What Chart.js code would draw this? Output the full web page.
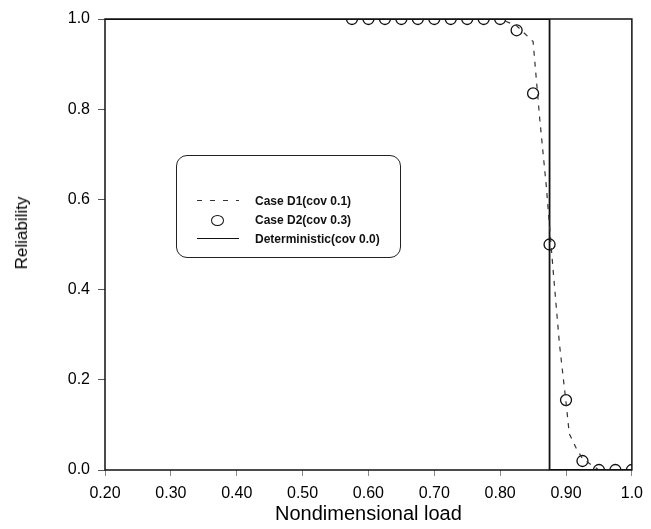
<!DOCTYPE html>
<html>
<head>
<meta charset="utf-8">
<script src="https://cdn.jsdelivr.net/npm/chart.js@4"></script>
<style>
  html, body { margin: 0; padding: 0; background: #fff; }
  #wrap { position: relative; width: 651px; height: 529px; }
  #c { position: absolute; left: 0; top: 0; }
  #ytitle {
    position: absolute; left: 22px; top: 233px; transform: translate(-50%, -50%) rotate(-90deg);
    font-family: "Liberation Sans", Arial, sans-serif; font-size: 17px; color: #000; white-space: nowrap;
  }
  #legend {
    position: absolute; left: 176px; top: 155px; width: 225px; height: 103px;
    border: 1.5px solid #222; border-radius: 11px; box-sizing: border-box;
    font-family: "Liberation Sans", Arial, sans-serif; font-weight: bold; font-size: 12px; color: #111;
  }
  .row { position: absolute; left: 0; height: 16px; width: 100%; }
  .sym { position: absolute; left: 20px; width: 42px; height: 16px; }
  .txt { position: absolute; left: 78px; top: 0; line-height: 16px; white-space: nowrap; }
  .dash { position: absolute; top: 7px; left: 0; width: 42px; height: 1.3px;
          background: repeating-linear-gradient(to right, #333 0, #333 5px, transparent 5px, transparent 13px); }
  .solid { position: absolute; top: 7px; left: 0; width: 42px; border-top: 1.3px solid #111; }
  .circ { position: absolute; top: 3px; left: 14px; width: 11px; height: 9px; border: 1.2px solid #111; border-radius: 50%; }
</style>
</head>
<body>
<div id="wrap">
  <canvas id="c" width="651" height="529"></canvas>
  <div id="ytitle">Reliability</div>
  <div id="legend"></div>
</div>
<script>
// ---- data ----
const xTickLabels = ['0.20', '0.30', '0.40', '0.50', '0.60', '0.70', '0.80', '0.90', '1.0'];
const yTickLabels = ['0.0', '0.2', '0.4', '0.6', '0.8', '1.0'];

const seriesNames = ['Case D1(cov 0.1)', 'Case D2(cov 0.3)', 'Deterministic(cov 0.0)'];

const d1Load = [0.575, 0.80, 0.825, 0.85, 0.86, 0.87, 0.88, 0.89, 0.90, 0.905, 0.915, 0.925, 0.95, 0.975, 1.0];
const d1Rel  = [1.0,   1.0,  0.985, 0.95, 0.78, 0.63, 0.45, 0.28, 0.15, 0.08,  0.05,  0.025, 0.0,  0.0,   0.0];

const d2Load = [0.575, 0.60, 0.625, 0.65, 0.675, 0.70, 0.725, 0.75, 0.775, 0.80, 0.825, 0.85, 0.875, 0.90, 0.925, 0.95, 0.975, 1.0];
const d2Rel  = [1.0,   1.0,  1.0,   1.0,  1.0,   1.0,  1.0,   1.0,  1.0,   1.0,  0.975, 0.835, 0.50, 0.155, 0.02,  0.0,  0.0,   0.0];

const detLoad = [0.20, 0.875, 0.875, 1.0];
const detRel  = [1.0,  1.0,   0.0,   0.0];

function pts(xs, ys) { return xs.map((x, i) => ({ x: x, y: ys[i] })); }

const framePlugin = {
  id: 'frame',
  afterDatasetsDraw(chart) {
    const a = chart.chartArea, ctx = chart.ctx;
    ctx.save();
    ctx.strokeStyle = '#111';
    ctx.lineWidth = 1.5;
    ctx.strokeRect(a.left, a.top, a.right - a.left, a.bottom - a.top);
    ctx.restore();
  }
};

const font = "'Liberation Sans', Arial, sans-serif";

new Chart(document.getElementById('c'), {
  type: 'scatter',
  data: {
    datasets: [
      {
        label: seriesNames[0],
        data: pts(d1Load, d1Rel),
        showLine: true,
        borderColor: '#333',
        borderWidth: 1.2,
        borderDash: [5, 6],
        pointRadius: 0,
        tension: 0
      },
      {
        label: seriesNames[1],
        data: pts(d2Load, d2Rel),
        showLine: false,
        borderColor: '#111',
        backgroundColor: 'rgba(0,0,0,0)',
        pointBorderColor: '#111',
        pointBackgroundColor: 'rgba(0,0,0,0)',
        pointBorderWidth: 1.3,
        pointRadius: 5.5,
        pointStyle: 'circle'
      },
      {
        label: seriesNames[2],
        data: pts(detLoad, detRel),
        showLine: true,
        borderColor: '#111',
        borderWidth: 1.8,
        pointRadius: 0,
        tension: 0
      }
    ]
  },
  options: {
    responsive: false,
    animation: false,
    layout: { padding: { top: 19, right: 17, left: 0, bottom: 0 } },
    plugins: { legend: { display: false }, tooltip: { enabled: false } },
    scales: {
      x: {
        type: 'linear',
        min: 0.2, max: 1.0,
        afterFit(s) { s.height = 59; },
        border: { display: false },
        grid: { drawOnChartArea: false, drawTicks: true, tickLength: 6, color: '#888', lineWidth: 1 },
        ticks: {
          stepSize: 0.1,
          padding: 8,
          color: '#000',
          font: { family: font, size: 16 },
          maxRotation: 0,
          autoSkip: false,
          callback: (v, i) => xTickLabels[i]
        },
        title: {
          display: true,
          text: 'Nondimensional load',
          color: '#000',
          font: { family: font, size: 20 },
          padding: { top: 0, bottom: 3 }
        }
      },
      y: {
        type: 'linear',
        min: 0, max: 1.0,
        afterFit(s) { s.width = 105; },
        border: { display: false },
        grid: { drawOnChartArea: false, drawTicks: true, tickLength: 7, color: '#555', lineWidth: 1 },
        ticks: {
          stepSize: 0.2,
          padding: 8,
          color: '#000',
          font: { family: font, size: 16 },
          callback: (v, i) => yTickLabels[i]
        },
        title: { display: false }
      }
    }
  },
  plugins: [framePlugin]
});

// HTML legend
const legend = document.getElementById('legend');
const symClasses = ['dash', 'circ', 'solid'];
const rowTops = [37, 56, 75];
seriesNames.forEach((name, i) => {
  const row = document.createElement('div');
  row.className = 'row';
  row.style.top = rowTops[i] + 'px';
  const sym = document.createElement('div');
  sym.className = 'sym';
  const mark = document.createElement('div');
  mark.className = symClasses[i];
  sym.appendChild(mark);
  const txt = document.createElement('div');
  txt.className = 'txt';
  txt.textContent = name;
  row.appendChild(sym);
  row.appendChild(txt);
  legend.appendChild(row);
});
</script>
</body>
</html>
